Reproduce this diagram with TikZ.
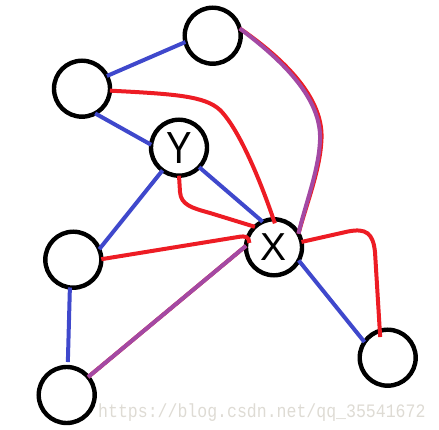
\documentclass[tikz,border=0pt]{standalone}
\usepackage{fontspec}
\setmainfont{Liberation Sans}
\newfontfamily\wmfont{Liberation Mono}
\usetikzlibrary{calc}
\definecolor{eblue}{RGB}{63,72,204}
\definecolor{ered}{RGB}{237,28,36}
\definecolor{epurple}{RGB}{163,73,164}
\definecolor{wmgray}{RGB}{222,219,212}
\begin{document}
\begin{tikzpicture}[x=1pt,y=-1pt,
  vert/.style={circle,draw=black,line width=4.4pt,minimum size=56pt,inner sep=0pt,outer sep=0pt},
  blueline/.style={draw=eblue,line width=4pt},
  redline/.style={draw=ered,line width=4pt},
  purpleline/.style={draw=epurple,line width=4pt}]
\useasboundingbox (0,0) rectangle (439,430);
\node[vert] (T) at (212.7,35.7) {};
\node[vert] (L) at (82,88.7) {};
\node[vert,font=\fontsize{45}{45}\selectfont] (Y) at (179,147.7) {\raisebox{-1pt}{\scalebox{0.85}[1]{Y}}};
\node[vert,font=\fontsize{39}{39}\selectfont] (X) at (274,247.3) {X};
\node[vert] (M) at (73.3,259.7) {};
\node[vert] (B) at (66.7,395) {};
\node[vert] (R) at (387.7,357.7) {};
% blue edges
\draw[blueline] (T.193) -- (L.27);
\draw[blueline] (L.-62) -- (Y.174);
\draw[blueline] (Y.234) -- (M.22);
\draw[blueline] (Y.-44) -- (X.114);
\draw[blueline] (M.-97) -- ($(B)+(-88:33)$);
\draw[blueline] (X.-28) -- (R.146);
% red edges
\draw[redline] (L.-4) .. controls (175,94) and (205,96) .. (220,110) .. controls (240,130) and (262,185) .. ($(X)+(-88:24)$);
\draw[redline] (Y.-90) -- (180,192) .. controls (181,205) and (192,208) .. (210,213) -- (X.133);
\draw[redline] (M.1) -- (238,237) .. controls (246,235.5) and (249,237) .. ($(X)+(-170:25)$);
\draw[redline] (X.11) -- (348,231.5) .. controls (366,228) and (373,233) .. (375,252) -- ($(R)+(-110:22)$);
% red + purple overlays
\draw[redline,xshift=1.5pt,yshift=1.2pt] (T.15) .. controls (275,55) and (322,95) .. (320,140) .. controls (319,170) and (305,205) .. (X.29);
\draw[purpleline] (T.15) .. controls (275,55) and (322,95) .. (320,140) .. controls (319,170) and (305,205) .. (X.29);
\draw[redline,xshift=-1pt,yshift=1pt] (B.40) -- (X.177);
\draw[purpleline] (B.40) -- (X.177);
% watermark
\node[anchor=base west,inner sep=0pt,text=wmgray,font=\wmfont\fontsize{19}{19}\selectfont,xscale=0.87] (wm) at (98,417.5) {https://blog.csdn.net/qq\_35541672};
\end{tikzpicture}
\end{document}
